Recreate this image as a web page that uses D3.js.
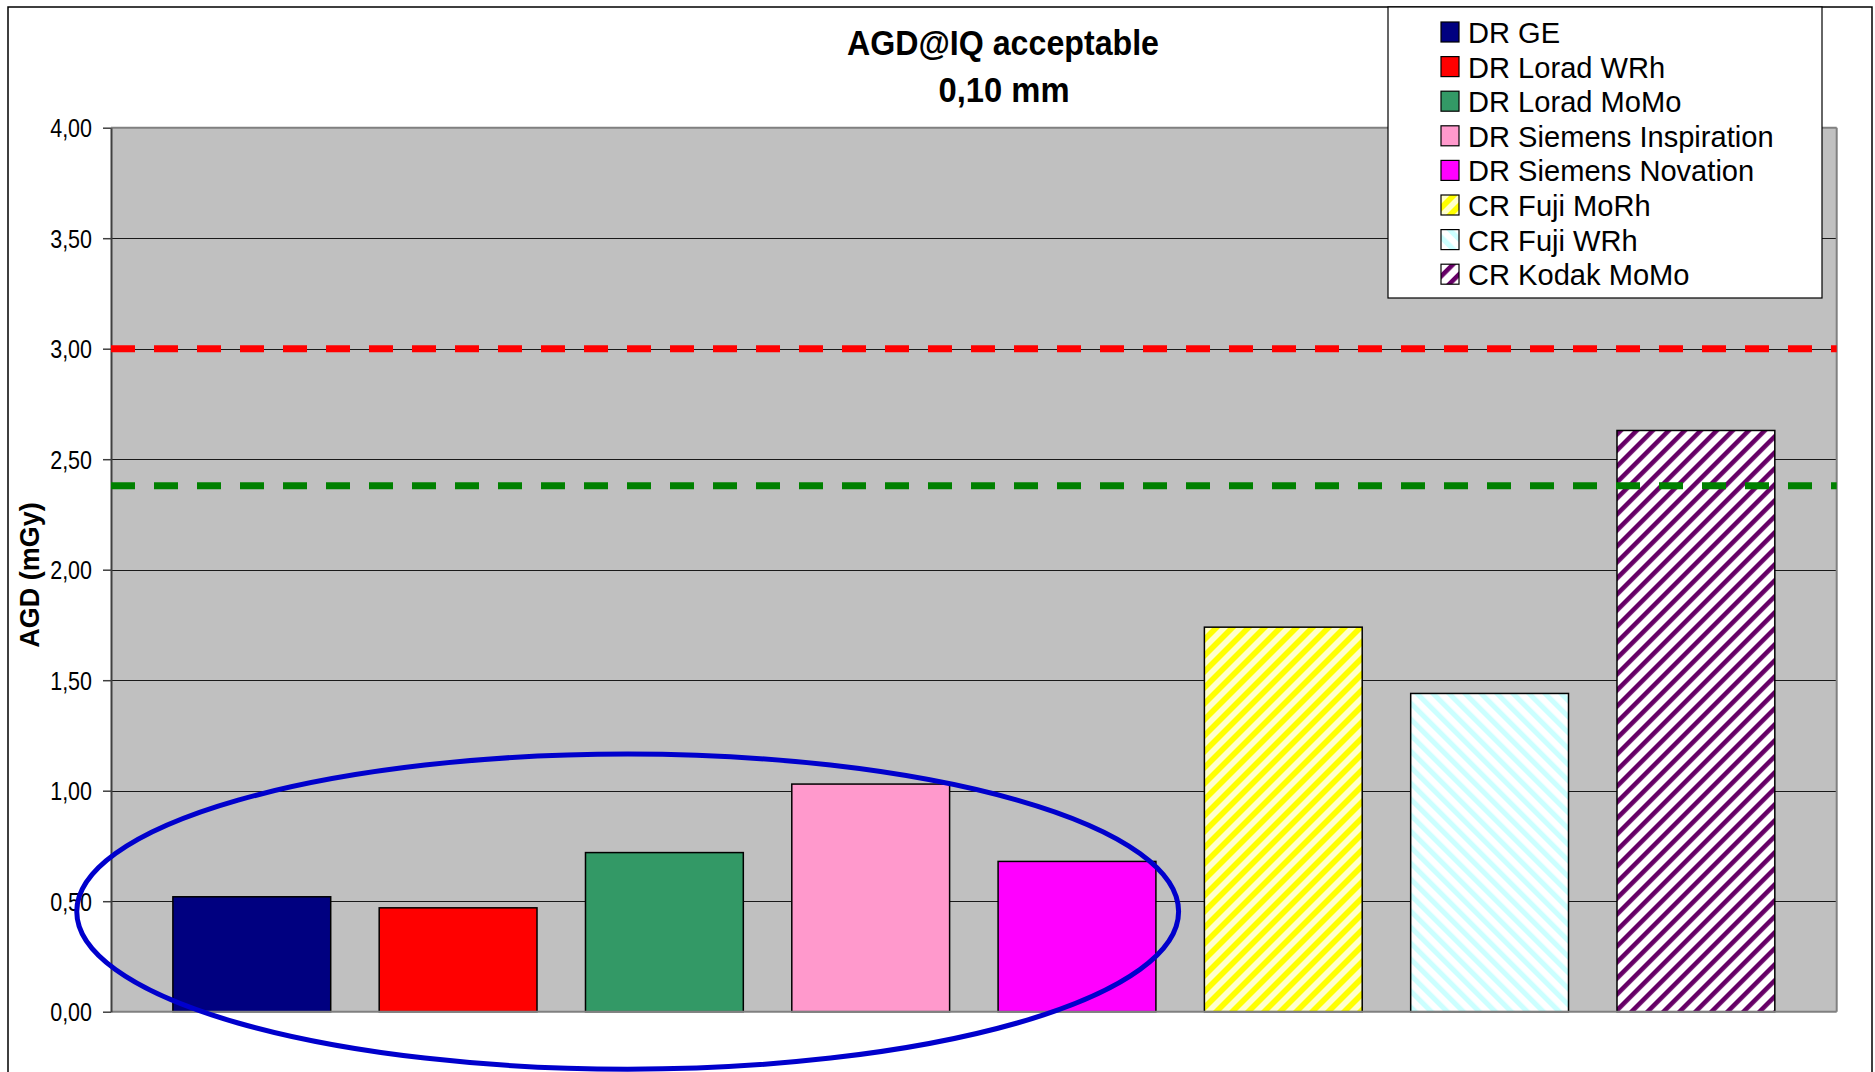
<!DOCTYPE html>
<html><head><meta charset="utf-8">
<script src="https://cdn.jsdelivr.net/npm/d3@7"></script>
<style>
html,body{margin:0;padding:0;background:#fff;overflow:hidden;}
svg{display:block;font-family:"Liberation Sans",Arial,sans-serif;}
</style>
</head><body>
<svg id="chart" width="1875" height="1072"></svg>
<script>
// ---------------- data ----------------
const categories = ["DR GE","DR Lorad WRh","DR Lorad MoMo","DR Siemens Inspiration","DR Siemens Novation","CR Fuji MoRh","CR Fuji WRh","CR Kodak MoMo"];
const values = [0.52, 0.47, 0.72, 1.03, 0.68, 1.74, 1.44, 2.63];
const yTickValues = [0, 0.5, 1, 1.5, 2, 2.5, 3, 3.5, 4];
const yTickLabels = ["0,00","0,50","1,00","1,50","2,00","2,50","3,00","3,50","4,00"];
const referenceValues = [3.00, 2.38];
const titleLines = ["AGD@IQ acceptable", "0,10 mm"];
const yAxisTitle = "AGD (mGy)";
// ellipse annotation (in data terms): spans bars from..to, vertical centre / radius in mGy
const ellipseFrom = "DR GE", ellipseTo = "DR Siemens Novation";
const ellipseCenterValue = 0.453, ellipseRadiusValue = 0.713;

// ---------------- styles ----------------
const fills = [
  {type:"solid", color:"#000080"},
  {type:"solid", color:"#FF0000"},
  {type:"solid", color:"#339966"},
  {type:"solid", color:"#FF99CC"},
  {type:"solid", color:"#FF00FF"},
  {type:"stripe", bg:"#FFFFCC", fg:"#FFFF00", angle:45, ratio:0.5},
  {type:"stripe", bg:"#FFFFFF", fg:"#CCFFFF", angle:-45, ratio:0.45},
  {type:"stripe", bg:"#FFFFFF", fg:"#660066", angle:45, ratio:0.4}
];
const referenceColors = ["#FF0000", "#008000"];

const svg = d3.select("#chart");
const plot = {left:111, top:127.7, right:1836.7, bottom:1011.7};

// patterns
const defs = svg.append("defs");
const P = 16 / Math.SQRT2;
fills.forEach((f, i) => {
  if (f.type !== "stripe") return;
  const pat = defs.append("pattern")
    .attr("id", "pat" + i)
    .attr("patternUnits", "userSpaceOnUse")
    .attr("width", P).attr("height", P)
    .attr("patternTransform", `rotate(${f.angle})`);
  pat.append("rect").attr("width", P).attr("height", P).attr("fill", f.bg);
  pat.append("rect").attr("width", P * f.ratio).attr("height", P).attr("fill", f.fg);
});
const fillOf = i => fills[i].type === "solid" ? fills[i].color : `url(#pat${i})`;

// outer chart border
svg.append("rect").attr("x", 8).attr("y", 7).attr("width", 1864).attr("height", 1100)
  .attr("fill", "#fff").attr("stroke", "#000").attr("stroke-width", 1.5);

// scales
const x = d3.scaleBand().domain(categories).range([plot.left, plot.right])
  .paddingInner(0.235).paddingOuter(0.30);
const y = d3.scaleLinear().domain([0, 4]).range([plot.bottom, plot.top]);

// plot background
svg.append("rect").attr("x", plot.left).attr("y", plot.top)
  .attr("width", plot.right - plot.left).attr("height", plot.bottom - plot.top)
  .attr("fill", "#C0C0C0");

// gridlines
svg.append("g").selectAll("line").data(yTickValues.filter(v => v > 0 && v < 4)).join("line")
  .attr("x1", plot.left).attr("x2", plot.right)
  .attr("y1", d => Math.round(y(d)) + 0.5).attr("y2", d => Math.round(y(d)) + 0.5)
  .attr("stroke", "#1a1a1a").attr("stroke-width", 1.2);

// plot frame top / right
svg.append("line").attr("x1", plot.left).attr("x2", plot.right).attr("y1", plot.top).attr("y2", plot.top)
  .attr("stroke", "#808080").attr("stroke-width", 2);
svg.append("line").attr("x1", plot.right).attr("x2", plot.right).attr("y1", plot.top).attr("y2", plot.bottom)
  .attr("stroke", "#808080").attr("stroke-width", 2);

// bars
svg.append("g").selectAll("rect").data(values).join("rect")
  .attr("x", (d, i) => x(categories[i]))
  .attr("y", d => y(d))
  .attr("width", x.bandwidth())
  .attr("height", d => y(0) - y(d))
  .attr("fill", (d, i) => fillOf(i))
  .attr("stroke", "#000").attr("stroke-width", 1.5);

// x baseline
svg.append("line").attr("x1", plot.left).attr("x2", plot.right).attr("y1", y(0)).attr("y2", y(0))
  .attr("stroke", "#808080").attr("stroke-width", 2);

// y axis
const yAxis = d3.axisLeft(y).tickValues(yTickValues)
  .tickFormat((d, i) => yTickLabels[i]).tickSize(8).tickSizeOuter(0);
const gy = svg.append("g").attr("transform", `translate(${plot.left},0)`).call(yAxis);
gy.select(".domain").attr("stroke", "#404040").attr("stroke-width", 2);
gy.selectAll(".tick line").attr("stroke", "#404040").attr("stroke-width", 1.5);
gy.selectAll(".tick text")
  .attr("font-family", "'Liberation Sans', Arial, sans-serif")
  .attr("font-size", 25).attr("fill", "#000")
  .attr("x", -19 / 0.86).attr("dy", 9)
  .attr("transform", "scale(0.86,1)");

// reference lines
svg.append("g").selectAll("line").data(referenceValues).join("line")
  .attr("x1", plot.left).attr("x2", plot.right)
  .attr("y1", d => y(d)).attr("y2", d => y(d))
  .attr("stroke", (d, i) => referenceColors[i])
  .attr("stroke-width", 7)
  .attr("stroke-dasharray", "24 19");

// ellipse annotation
const eLeft = x(ellipseFrom) - 0.466 * x.step();
const eRight = x(ellipseTo) + x.bandwidth() + 0.11 * x.step();
svg.append("ellipse")
  .attr("cx", (eLeft + eRight) / 2)
  .attr("cy", y(ellipseCenterValue))
  .attr("rx", (eRight - eLeft) / 2)
  .attr("ry", y(0) - y(ellipseRadiusValue))
  .attr("fill", "none").attr("stroke", "#0000CC").attr("stroke-width", 5);

// title
const titleX = [1003, 1004], titleY = [55, 102], titleW = [312, 131];
svg.append("g").selectAll("text").data(titleLines).join("text")
  .attr("x", (d, i) => titleX[i]).attr("y", (d, i) => titleY[i])
  .attr("text-anchor", "middle")
  .attr("font-size", 35).attr("font-weight", "bold")
  .attr("textLength", (d, i) => titleW[i]).attr("lengthAdjust", "spacingAndGlyphs")
  .text(d => d);

// y axis title
svg.append("text")
  .attr("transform", "translate(39,575) rotate(-90)")
  .attr("text-anchor", "middle")
  .attr("font-size", 27).attr("font-weight", "bold")
  .text(yAxisTitle);

// legend
const lg = svg.append("g");
lg.append("rect").attr("x", 1388).attr("y", 7).attr("width", 434).attr("height", 291)
  .attr("fill", "#fff").attr("stroke", "#000").attr("stroke-width", 1.2);
const rows = lg.selectAll("g.row").data(categories).join("g").attr("class", "row")
  .attr("transform", (d, i) => `translate(0,${32 + 34.6 * i})`);
rows.append("rect").attr("x", 1441).attr("y", -10).attr("width", 18).attr("height", 20)
  .attr("fill", (d, i) => fillOf(i)).attr("stroke", "#000").attr("stroke-width", 1.2);
rows.append("text")
  .attr("transform", "translate(1468,11) scale(0.97,1)")
  .attr("font-size", 30).attr("fill", "#000")
  .text(d => d);
</script>
</body></html>
